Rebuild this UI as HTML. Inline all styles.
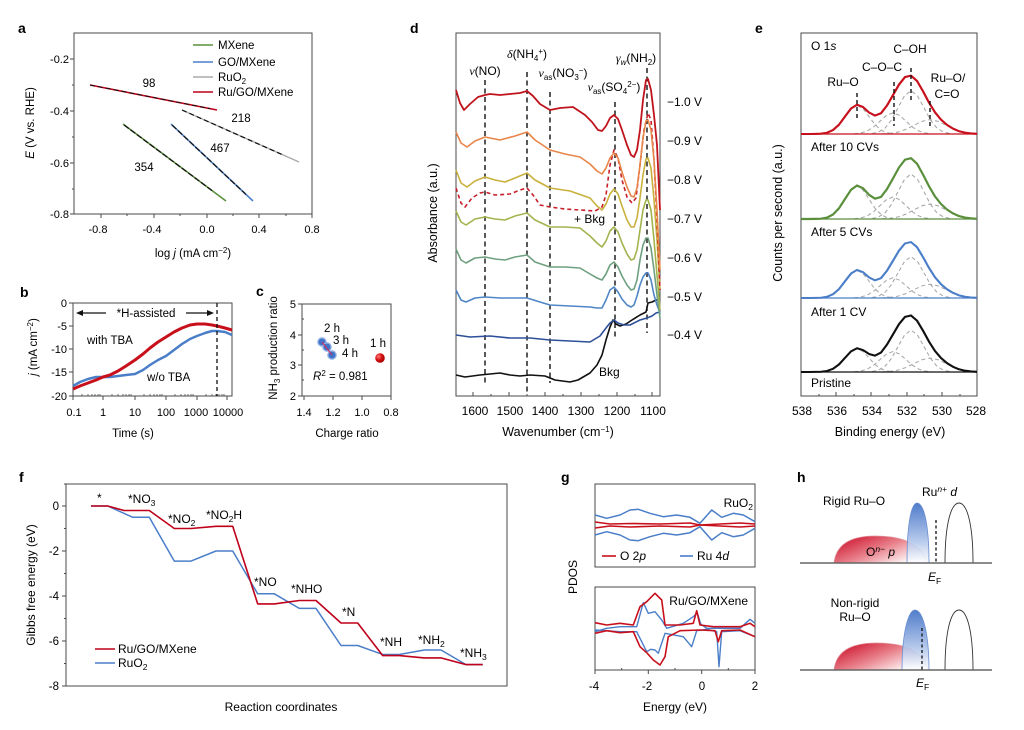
<!DOCTYPE html>
<html><head><meta charset="utf-8"><style>
html,body{margin:0;padding:0;background:#fff;}
svg{display:block;font-family:"Liberation Sans",Arial,sans-serif;}
</style></head><body>
<svg width="1024" height="730" viewBox="0 0 1024 730" xmlns="http://www.w3.org/2000/svg">
<defs>
<linearGradient id="rg" x1="0" y1="0" x2="1" y2="0.7"><stop offset="0" stop-color="#c8001e"/><stop offset="0.55" stop-color="#e8808a"/><stop offset="1" stop-color="#ffffff"/></linearGradient>
<linearGradient id="bg" x1="0" y1="0" x2="0" y2="1"><stop offset="0" stop-color="#3d6ec4"/><stop offset="0.6" stop-color="#a9c0e8"/><stop offset="1" stop-color="#ffffff"/></linearGradient>
<radialGradient id="redball" cx="0.35" cy="0.35" r="0.7"><stop offset="0" stop-color="#ff8080"/><stop offset="0.5" stop-color="#d81010"/><stop offset="1" stop-color="#a00000"/></radialGradient>
</defs>
<rect width="1024" height="730" fill="#fff"/>

<!-- ============ PANEL A ============ -->
<text x="18" y="33" font-size="14" font-weight="bold">a</text>
<rect x="74" y="33" width="238" height="181" fill="none" stroke="#4a4a4a" stroke-width="1"/>
<g stroke="#4a4a4a" stroke-width="1">
<line x1="70" y1="59" x2="74" y2="59"/><line x1="70" y1="111" x2="74" y2="111"/><line x1="70" y1="163" x2="74" y2="163"/><line x1="70" y1="214" x2="74" y2="214"/>
<line x1="72" y1="85" x2="74" y2="85"/><line x1="72" y1="137" x2="74" y2="137"/><line x1="72" y1="189" x2="74" y2="189"/>
<line x1="101" y1="214" x2="101" y2="218"/><line x1="154" y1="214" x2="154" y2="218"/><line x1="207" y1="214" x2="207" y2="218"/><line x1="259" y1="214" x2="259" y2="218"/><line x1="312" y1="214" x2="312" y2="218"/>
<line x1="127" y1="214" x2="127" y2="216"/><line x1="180" y1="214" x2="180" y2="216"/><line x1="233" y1="214" x2="233" y2="216"/><line x1="286" y1="214" x2="286" y2="216"/>
</g>
<g font-size="11" text-anchor="end">
<text x="69" y="63">-0.2</text><text x="69" y="115">-0.4</text><text x="69" y="167">-0.6</text><text x="69" y="218">-0.8</text>
</g>
<g font-size="11" text-anchor="middle">
<text x="98" y="233">-0.8</text><text x="152" y="233">-0.4</text><text x="207" y="233">0.0</text><text x="259" y="233">0.4</text><text x="312" y="233">0.8</text>
</g>
<text x="193" y="257" font-size="11.5" text-anchor="middle">log <tspan font-style="italic">j</tspan> (mA cm<tspan dy="-4" font-size="8">−2</tspan><tspan dy="4">)</tspan></text>
<text transform="translate(34,123) rotate(-90)" font-size="11.5" text-anchor="middle"><tspan font-style="italic">E</tspan> (V vs. RHE)</text>
<line x1="90" y1="85" x2="217" y2="110" stroke="#c0001a" stroke-width="1.6"/>
<line x1="90" y1="85" x2="210" y2="108.6" stroke="#111" stroke-width="1" stroke-dasharray="5,3"/>
<line x1="182" y1="110" x2="299" y2="162" stroke="#aaaaaa" stroke-width="1.4"/>
<line x1="182" y1="110" x2="282" y2="154.5" stroke="#111" stroke-width="1.2" stroke-dasharray="5,3"/>
<line x1="171" y1="124" x2="253" y2="201" stroke="#4a7ec8" stroke-width="1.6"/>
<line x1="172" y1="125" x2="246" y2="194.5" stroke="#111" stroke-width="1.2" stroke-dasharray="6,2"/>
<line x1="123" y1="124" x2="226" y2="201" stroke="#5a8f3c" stroke-width="1.6"/>
<line x1="124" y1="125" x2="212" y2="190.6" stroke="#111" stroke-width="1.2" stroke-dasharray="6,2"/>
<g font-size="11.5" text-anchor="middle">
<text x="149" y="87">98</text><text x="241" y="122">218</text><text x="220" y="152">467</text><text x="144" y="171">354</text>
</g>
<line x1="193" y1="45" x2="213" y2="45" stroke="#5a8f3c" stroke-width="1.5"/>
<line x1="193" y1="62" x2="213" y2="62" stroke="#4a7ec8" stroke-width="1.5"/>
<line x1="193" y1="77" x2="213" y2="77" stroke="#aaaaaa" stroke-width="1.5"/>
<line x1="193" y1="92" x2="213" y2="92" stroke="#c0001a" stroke-width="1.5"/>
<g font-size="11.5">
<text x="218" y="49">MXene</text><text x="218" y="66">GO/MXene</text><text x="218" y="81">RuO<tspan dy="3" font-size="8">2</tspan></text><text x="218" y="96">Ru/GO/MXene</text>
</g>

<!-- ============ PANEL B ============ -->
<text x="20" y="297" font-size="14" font-weight="bold">b</text>
<rect x="73" y="303" width="159" height="93" fill="none" stroke="#4a4a4a" stroke-width="1"/>
<g stroke="#4a4a4a" stroke-width="1">
<line x1="69" y1="303" x2="73" y2="303"/><line x1="69" y1="326" x2="73" y2="326"/><line x1="69" y1="349" x2="73" y2="349"/><line x1="69" y1="372" x2="73" y2="372"/><line x1="69" y1="396" x2="73" y2="396"/>
<line x1="73" y1="396" x2="73" y2="400"/><line x1="103" y1="396" x2="103" y2="400"/><line x1="135" y1="396" x2="135" y2="400"/><line x1="166" y1="396" x2="166" y2="400"/><line x1="197" y1="396" x2="197" y2="400"/><line x1="227" y1="396" x2="227" y2="400"/>
</g>
<g stroke="#4a4a4a" stroke-width="0.8">
<path d="M82,396v-2M88,396v-2M92,396v-2M95,396v-2M98,396v-2M100,396v-2M112,396v-2M118,396v-2M123,396v-2M126,396v-2M129,396v-2M131,396v-2M144,396v-2M150,396v-2M154,396v-2M157,396v-2M160,396v-2M162,396v-2M175,396v-2M181,396v-2M185,396v-2M188,396v-2M191,396v-2M193,396v-2M206,396v-2M212,396v-2M216,396v-2M219,396v-2M222,396v-2M224,396v-2"/>
</g>
<g font-size="11" text-anchor="end">
<text x="67" y="307">0</text><text x="67" y="330">-5</text><text x="67" y="353">-10</text><text x="67" y="376">-15</text><text x="67" y="400">-20</text>
</g>
<g font-size="11" text-anchor="middle">
<text x="74" y="416">0.1</text><text x="103" y="416">1</text><text x="135" y="416">10</text><text x="166" y="416">100</text><text x="196" y="416">1000</text><text x="228" y="416">10000</text>
</g>
<text x="133" y="437" font-size="11.5" text-anchor="middle">Time (s)</text>
<text transform="translate(37,347) rotate(-90)" font-size="11.5" text-anchor="middle"><tspan font-style="italic">j</tspan> (mA cm<tspan dy="-4" font-size="8">−2</tspan><tspan dy="4">)</tspan></text>
<polyline fill="none" stroke="#4a7ec8" stroke-width="2.5" stroke-linejoin="round" points="73,386 80,382 88,379 96,377 103,377 110,377 118,376 126,375 135,374 143,370 150,365 158,360 166,356 174,350 182,344 190,339 197,336 205,333 212,331 217,331 225,332 232,335"/>
<polyline fill="none" stroke="#c8101c" stroke-width="3" stroke-linejoin="round" points="73,389 80,386 88,383 96,380 103,377 110,375 118,371 126,366 135,360 143,354 150,348 158,342 166,337 174,332 182,328 190,325 197,324 205,324 212,325 217,326 225,328 232,330"/>
<line x1="217" y1="303" x2="217" y2="396" stroke="#111" stroke-width="1.3" stroke-dasharray="4,3"/>
<rect x="108" y="305" width="76" height="16" fill="#fff"/>
<line x1="79" y1="313" x2="106" y2="313" stroke="#111" stroke-width="1.2"/>
<line x1="186" y1="313" x2="211" y2="313" stroke="#111" stroke-width="1.2"/>
<path d="M76,313 l7,-3 v6 z" fill="#111"/><path d="M214,313 l-7,-3 v6 z" fill="#111"/>
<text x="146" y="317" font-size="11.5" text-anchor="middle">*H-assisted</text>
<text x="87" y="344" font-size="11.5">with TBA</text>
<text x="147" y="381" font-size="11.5">w/o TBA</text>

<!-- ============ PANEL C ============ -->
<text x="256" y="296" font-size="14" font-weight="bold">c</text>
<rect x="302" y="304" width="89" height="92" fill="none" stroke="#4a4a4a" stroke-width="1"/>
<g stroke="#4a4a4a" stroke-width="1">
<line x1="298" y1="304" x2="302" y2="304"/><line x1="298" y1="335" x2="302" y2="335"/><line x1="298" y1="365" x2="302" y2="365"/><line x1="298" y1="396" x2="302" y2="396"/>
<line x1="302" y1="319" x2="304" y2="319"/><line x1="302" y1="350" x2="304" y2="350"/><line x1="302" y1="380" x2="304" y2="380"/>
<line x1="304" y1="396" x2="304" y2="400"/><line x1="333" y1="396" x2="333" y2="400"/><line x1="362" y1="396" x2="362" y2="400"/><line x1="391" y1="396" x2="391" y2="400"/>
</g>
<g font-size="11" text-anchor="end">
<text x="296" y="308">5</text><text x="296" y="339">4</text><text x="296" y="369">3</text><text x="296" y="400">2</text>
</g>
<g font-size="11" text-anchor="middle">
<text x="304" y="416">1.4</text><text x="333" y="416">1.2</text><text x="362" y="416">1.0</text><text x="391" y="416">0.8</text>
</g>
<text x="347" y="437" font-size="11.5" text-anchor="middle">Charge ratio</text>
<text transform="translate(277,348) rotate(-90)" font-size="11.5" text-anchor="middle">NH<tspan dy="3" font-size="8">3</tspan><tspan dy="-3"> production ratio</tspan></text>
<line x1="322" y1="342" x2="332" y2="355" stroke="#c8306a" stroke-width="1.5"/>
<circle cx="322" cy="342" r="4.2" fill="#3f74c8" stroke="#9cb8e8" stroke-width="1.3"/>
<circle cx="327" cy="347" r="4.2" fill="#3f74c8" stroke="#9cb8e8" stroke-width="1.3"/>
<circle cx="332" cy="355" r="4.2" fill="#3f74c8" stroke="#9cb8e8" stroke-width="1.3"/>
<line x1="322" y1="342" x2="332" y2="355" stroke="#c8306a" stroke-width="1.2"/>
<circle cx="380" cy="358" r="4.8" fill="url(#redball)"/>
<g font-size="11.5">
<text x="324" y="332">2 h</text><text x="333" y="344">3 h</text><text x="342" y="357">4 h</text><text x="370" y="347">1 h</text>
<text x="313" y="380"><tspan font-style="italic">R</tspan><tspan dy="-4" font-size="8">2</tspan><tspan dy="4"> = 0.981</tspan></text>
</g>

<!-- ============ PANEL D ============ -->
<text x="410" y="33" font-size="14" font-weight="bold">d</text>
<rect x="456" y="33" width="204" height="363" fill="none" stroke="#4a4a4a" stroke-width="1"/>
<g stroke="#4a4a4a" stroke-width="1">
<path d="M473,396v-4M509,396v-4M545,396v-4M581,396v-4M617,396v-4M652,396v-4M491,396v-2M527,396v-2M563,396v-2M599,396v-2M635,396v-2"/>
</g>
<g font-size="12" text-anchor="middle">
<text x="475" y="415">1600</text><text x="510" y="415">1500</text><text x="545" y="415">1400</text><text x="581" y="415">1300</text><text x="617" y="415">1200</text><text x="653" y="415">1100</text>
</g>
<text x="558" y="436" font-size="12.5" text-anchor="middle">Wavenumber (cm<tspan dy="-4" font-size="8">−1</tspan><tspan dy="4">)</tspan></text>
<text transform="translate(437,213) rotate(-90)" font-size="12.5" text-anchor="middle">Absorbance (a.u.)</text>
<g stroke="#111" stroke-width="1.4" stroke-dasharray="5,3.5">
<line x1="485" y1="80" x2="485" y2="383"/>
<line x1="527" y1="72" x2="527" y2="393"/>
<line x1="550" y1="92" x2="550" y2="383"/>
<line x1="615" y1="102" x2="615" y2="339"/>
<line x1="647" y1="68" x2="647" y2="333"/>
</g>
<g fill="none" stroke-width="1.6" stroke-linejoin="round">
<polyline stroke="#111" points="456,375 465,377 480,375 490,374 500,373 510,375 520,376 530,375 545,376 555,380 570,382 578,380 590,373 597,365 602,355 606,340 610,327 613,320 616,324 620,326 626,324 632,320 640,315 646,312 648,303 652,302 656,300 660,299"/>
<polyline stroke="#2d4f9a" points="456,335 470,337 490,336 510,338 530,338 550,340 570,341 590,342 600,336 606,328 610,323 614,320 618,323 624,325 630,325 640,320 647,318 652,316 656,313 660,312"/>
<polyline stroke="#4f86c6" points="456,290 461,300 466,302 475,298 485,297 500,298 515,298 527,298 540,302 550,305 570,306 590,307 597,308 602,308 606,300 610,290 614,287 618,292 622,299 627,305 631,307 634,305 637,296 640,285 643,277 646,273 648,273 651,280 654,295 657,305 660,313"/>
<polyline stroke="#6fa080" points="456,249 461,260 466,263 475,258 485,257 495,259 505,260 515,257 527,255 535,262 550,267 565,267 580,268 590,274 597,278 602,280 606,274 610,265 614,262 618,267 622,276 627,285 631,290 634,289 637,280 640,260 643,245 646,238 648,238 651,248 654,270 657,295 660,318"/>
<polyline stroke="#a3b44e" points="456,211 461,222 466,225 475,219 485,217 495,219 505,220 515,216 527,213 535,220 550,227 565,227 580,228 590,236 597,243 602,247 606,241 610,231 614,227 618,232 622,243 627,254 631,260 634,259 637,250 640,230 643,210 646,200 648,200 651,210 654,240 657,275 660,310"/>
<polyline stroke="#c9b13c" points="456,170 461,183 467,187 475,181 485,177 495,180 505,182 515,178 527,173 535,180 550,188 570,191 590,198 597,206 602,210 606,204 610,194 614,189 618,194 622,206 627,220 631,227 634,227 637,218 640,198 643,175 646,159 648,158 651,168 654,200 657,240 660,290"/>
<polyline stroke="#c8202a" stroke-dasharray="4,3" points="456,188 461,203 465,207 472,198 480,193 485,192 495,195 510,194 520,190 527,188 533,195 540,205 550,207 565,209 580,210 595,211 602,207 606,195 610,165 614,150 618,158 622,180 627,197 632,203 636,198 640,165 644,130 648,113 651,120 654,160 657,220 660,290"/>
<polyline stroke="#e8864a" points="456,132 461,143 467,147 475,141 485,137 500,140 515,136 527,132 535,140 550,150 565,154 580,157 590,164 597,171 602,174 606,168 610,158 614,153 618,158 622,172 627,187 631,196 634,197 637,188 640,165 643,138 646,121 648,120 651,130 654,160 657,210 660,270"/>
<polyline stroke="#c0141c" stroke-width="1.8" points="456,90 460,103 464,110 470,104 478,97 485,95 490,94 500,95 510,94 520,93 527,91 533,96 540,104 550,110 560,108 573,107 585,115 592,122 598,130 602,131 606,126 610,118 614,115 618,119 622,130 627,145 631,155 634,157 637,150 640,130 643,100 646,80 648,79 651,90 654,115 657,145 660,210"/>
</g>
<g font-size="12">
<text x="667" y="106">−1.0 V</text><text x="667" y="145">−0.9 V</text><text x="667" y="184">−0.8 V</text><text x="667" y="223">−0.7 V</text><text x="667" y="262">−0.6 V</text><text x="667" y="301">−0.5 V</text><text x="667" y="339">−0.4 V</text>
<text x="574" y="223">+ Bkg</text><text x="599" y="376">Bkg</text>
</g>
<g font-size="12" text-anchor="middle">
<text x="485" y="75"><tspan font-family="Liberation Serif" font-style="italic">ν</tspan>(NO)</text>
<text x="527" y="58"><tspan font-family="Liberation Serif" font-style="italic">δ</tspan>(NH<tspan dy="3" font-size="8">4</tspan><tspan dy="-7" font-size="8">+</tspan><tspan dy="4">)</tspan></text>
<text x="563" y="77"><tspan font-family="Liberation Serif" font-style="italic">ν</tspan><tspan dy="3" font-size="8">as</tspan><tspan dy="-3">(NO</tspan><tspan dy="3" font-size="8">3</tspan><tspan dy="-7" font-size="8">−</tspan><tspan dy="4">)</tspan></text>
<text x="614" y="91"><tspan font-family="Liberation Serif" font-style="italic">ν</tspan><tspan dy="3" font-size="8">as</tspan><tspan dy="-3">(SO</tspan><tspan dy="3" font-size="8">4</tspan><tspan dy="-7" font-size="8">2−</tspan><tspan dy="4">)</tspan></text>
<text x="636" y="62"><tspan font-family="Liberation Serif" font-style="italic">γ</tspan><tspan dy="3" font-size="8" font-style="italic">w</tspan><tspan dy="-3">(NH</tspan><tspan dy="3" font-size="8">2</tspan><tspan dy="-3">)</tspan></text>
</g>

<!-- ============ PANEL E ============ -->
<text x="755" y="33" font-size="14" font-weight="bold">e</text>
<rect x="801" y="33" width="176" height="363" fill="none" stroke="#4a4a4a" stroke-width="1"/>
<g stroke="#4a4a4a" stroke-width="1">
<path d="M836,396v-4M871,396v-4M907,396v-4M942,396v-4M819,396v-2M854,396v-2M889,396v-2M924,396v-2M960,396v-2"/>
</g>
<g font-size="12" text-anchor="middle">
<text x="802" y="415">538</text><text x="837" y="415">536</text><text x="872" y="415">534</text><text x="907" y="415">532</text><text x="942" y="415">530</text><text x="976" y="415">528</text>
</g>
<text x="890" y="436" font-size="12.5" text-anchor="middle">Binding energy (eV)</text>
<text transform="translate(782,213) rotate(-90)" font-size="12.5" text-anchor="middle">Counts per second (a.u.)</text>
<g transform="translate(0,134) scale(1,0.96)">
<g fill="none" stroke="#a8a8a8" stroke-width="1.1" stroke-dasharray="4,3">
<polyline points="821,-0.3 827,-1.3 833,-4.1 839,-9.7 845,-18.2 851,-26.5 857,-30 863,-26.5 869,-18.2 875,-9.7 881,-4.1 887,-1.3 893,-0.3"/>
<polyline points="854,-0.24 860.5,-0.97 867,-2.97 873.5,-7.15 880,-13.35 886.5,-19.4 893,-22 899.5,-19.4 906,-13.35 912.5,-7.15 919,-2.97 925.5,-0.97 932,-0.24"/>
<polyline points="872,-0.5 878.5,-2 885,-6.1 891.5,-14.6 898,-27.3 904.5,-39.7 911,-45 917.5,-39.7 924,-27.3 930.5,-14.6 937,-6.1 943.5,-2 950,-0.5"/>
<polyline points="882,-0.17 890,-0.66 898,-2 906,-4.9 914,-9.1 922,-13.2 930,-15 938,-13.2 946,-9.1 954,-4.9 962,-2 970,-0.66 977,-0.2"/>
</g>
<line x1="801" y1="0" x2="977" y2="0" stroke="#c8101c" stroke-width="1.3"/>
<polyline fill="none" stroke="#c8101c" stroke-width="2.2" stroke-linejoin="round" points="801,0 809,0 815,-0.1 821,-0.3 827,-1.3 833,-4.1 839,-9.7 845,-18.2 851,-26.6 857,-30.5 863,-28.1 869,-22.4 875,-19.2 881,-21.6 887,-29.7 893,-40.5 899,-51.5 905,-59.3 911,-60.8 917,-55.3 923,-44.5 929,-32.7 935,-22.6 941,-15 947,-9.5 953,-5.6 959,-2.9 965,-1.4 971,-0.6 977,-0.2"/>
</g>
<g transform="translate(0,219) scale(1,1.0)">
<g fill="none" stroke="#a8a8a8" stroke-width="1.1" stroke-dasharray="4,3">
<polyline points="821,-0.3 827,-1.4 833,-4.5 839,-10.7 845,-20 851,-29 857,-33 863,-29 869,-20 875,-10.7 881,-4.5 887,-1.4 893,-0.3"/>
<polyline points="854,-0.24 860.5,-0.97 867,-2.97 873.5,-7.15 880,-13.35 886.5,-19.4 893,-22 899.5,-19.4 906,-13.35 912.5,-7.15 919,-2.97 925.5,-0.97 932,-0.24"/>
<polyline points="872,-0.5 878.5,-2 885,-6.1 891.5,-14.6 898,-27.3 904.5,-39.7 911,-45 917.5,-39.7 924,-27.3 930.5,-14.6 937,-6.1 943.5,-2 950,-0.5"/>
<polyline points="882,-0.17 890,-0.66 898,-2 906,-4.9 914,-9.1 922,-13.2 930,-15 938,-13.2 946,-9.1 954,-4.9 962,-2 970,-0.66 977,-0.2"/>
</g>
<line x1="801" y1="0" x2="977" y2="0" stroke="#5a8f3c" stroke-width="1.3"/>
<polyline fill="none" stroke="#5a8f3c" stroke-width="2.2" stroke-linejoin="round" points="801,0 809,0 815,-0.1 821,-0.3 827,-1.4 833,-4.5 839,-10.7 845,-20 851,-29.2 857,-33.5 863,-30.8 869,-24.2 875,-20.3 881,-22.1 887,-29.9 893,-40.6 899,-51.5 905,-59.3 911,-60.8 917,-55.3 923,-44.5 929,-32.7 935,-22.6 941,-15 947,-9.5 953,-5.6 959,-2.9 965,-1.4 971,-0.6 977,-0.2"/>
</g>
<g transform="translate(0,298) scale(1,0.92)">
<g fill="none" stroke="#a8a8a8" stroke-width="1.1" stroke-dasharray="4,3">
<polyline points="821,-0.3 827,-1.3 833,-4.1 839,-9.7 845,-18.2 851,-26.5 857,-30 863,-26.5 869,-18.2 875,-9.7 881,-4.1 887,-1.3 893,-0.3"/>
<polyline points="854,-0.24 860.5,-0.97 867,-2.97 873.5,-7.15 880,-13.35 886.5,-19.4 893,-22 899.5,-19.4 906,-13.35 912.5,-7.15 919,-2.97 925.5,-0.97 932,-0.24"/>
<polyline points="872,-0.5 878.5,-2 885,-6.1 891.5,-14.6 898,-27.3 904.5,-39.7 911,-45 917.5,-39.7 924,-27.3 930.5,-14.6 937,-6.1 943.5,-2 950,-0.5"/>
<polyline points="882,-0.17 890,-0.66 898,-2 906,-4.9 914,-9.1 922,-13.2 930,-15 938,-13.2 946,-9.1 954,-4.9 962,-2 970,-0.66 977,-0.2"/>
</g>
<line x1="801" y1="0" x2="977" y2="0" stroke="#4a7ec8" stroke-width="1.3"/>
<polyline fill="none" stroke="#4a7ec8" stroke-width="2.2" stroke-linejoin="round" points="801,0 809,0 815,-0.1 821,-0.3 827,-1.3 833,-4.1 839,-9.7 845,-18.2 851,-26.6 857,-30.5 863,-28.1 869,-22.4 875,-19.2 881,-21.6 887,-29.7 893,-40.5 899,-51.5 905,-59.3 911,-60.8 917,-55.3 923,-44.5 929,-32.7 935,-22.6 941,-15 947,-9.5 953,-5.6 959,-2.9 965,-1.4 971,-0.6 977,-0.2"/>
</g>
<g transform="translate(0,372) scale(1,0.93)">
<g fill="none" stroke="#a8a8a8" stroke-width="1.1" stroke-dasharray="4,3">
<polyline points="821,-0.2 827,-1.1 833,-3.4 839,-8.1 845,-15.2 851,-22 857,-25 863,-22 869,-15.2 875,-8.1 881,-3.4 887,-1.1 893,-0.2"/>
<polyline points="854,-0.24 860.5,-0.97 867,-2.97 873.5,-7.15 880,-13.35 886.5,-19.4 893,-22 899.5,-19.4 906,-13.35 912.5,-7.15 919,-2.97 925.5,-0.97 932,-0.24"/>
<polyline points="872,-0.5 878.5,-2 885,-6.1 891.5,-14.6 898,-27.3 904.5,-39.7 911,-45 917.5,-39.7 924,-27.3 930.5,-14.6 937,-6.1 943.5,-2 950,-0.5"/>
<polyline points="882,-0.17 890,-0.66 898,-2 906,-4.9 914,-9.1 922,-13.2 930,-15 938,-13.2 946,-9.1 954,-4.9 962,-2 970,-0.66 977,-0.2"/>
</g>
<line x1="801" y1="0" x2="977" y2="0" stroke="#111" stroke-width="1.3"/>
<polyline fill="none" stroke="#111" stroke-width="2.2" stroke-linejoin="round" points="801,0 809,0 815,-0.1 821,-0.3 827,-1.1 833,-3.4 839,-8.1 845,-15.2 851,-22.2 857,-25.5 863,-23.6 869,-19.4 875,-17.6 881,-20.9 887,-29.5 893,-40.5 899,-51.5 905,-59.3 911,-60.8 917,-55.3 923,-44.5 929,-32.7 935,-22.6 941,-15 947,-9.5 953,-5.6 959,-2.9 965,-1.4 971,-0.6 977,-0.2"/>
</g>
<g stroke="#111" stroke-width="1.4" stroke-dasharray="4,3">
<line x1="857" y1="93" x2="857" y2="118"/>
<line x1="894" y1="82" x2="894" y2="126"/>
<line x1="911" y1="68" x2="911" y2="102"/>
<line x1="930" y1="101" x2="930" y2="126"/>
</g>
<g font-size="12">
<text x="811" y="50">O 1<tspan font-style="italic">s</tspan></text>
<text x="910" y="53" text-anchor="middle">C–OH</text>
<text x="882" y="71" text-anchor="middle">C–O–C</text>
<text x="843" y="86" text-anchor="middle">Ru–O</text>
<text x="948" y="82" text-anchor="middle">Ru–O/</text>
<text x="947" y="98" text-anchor="middle">C=O</text>
<text x="811" y="151">After 10 CVs</text>
<text x="811" y="236">After 5 CVs</text>
<text x="811" y="316">After 1 CV</text>
<text x="811" y="387">Pristine</text>
</g>

<!-- ============ PANEL F ============ -->
<text x="19" y="482" font-size="14" font-weight="bold">f</text>
<rect x="66" y="484" width="441" height="202" fill="none" stroke="#4a4a4a" stroke-width="1"/>
<g stroke="#4a4a4a" stroke-width="1">
<path d="M62,506h4M62,551h4M62,596h4M62,641h4M62,686h4M64,528.5h2M64,573.5h2M64,618.5h2M64,663.5h2M64,484h2"/>
</g>
<g font-size="11.5" text-anchor="end">
<text x="59" y="510">0</text><text x="59" y="555">-2</text><text x="59" y="600">-4</text><text x="59" y="645">-6</text><text x="59" y="690">-8</text>
</g>
<text x="281" y="711" font-size="12" text-anchor="middle">Reaction coordinates</text>
<text transform="translate(35,585) rotate(-90)" font-size="12" text-anchor="middle">Gibbs free energy (eV)</text>
<polyline fill="none" stroke="#4a7ec8" stroke-width="1.5" stroke-linejoin="round" points="91,506 107.7,506 132.7,517.3 149.3,517.3 174.3,561.1 191,561.1 216,551 232.7,551 257.7,593.8 274.3,593.8 299.3,608.4 316,608.4 341,645.5 357.7,645.5 382.7,654.5 399.3,654.5 424.3,650 441,650 466,664.6 482.7,664.6"/>
<polyline fill="none" stroke="#c0001a" stroke-width="1.6" stroke-linejoin="round" points="91,506 107.7,506 124,510.5 149.3,510.5 174.3,528.5 191,528.5 216,526.3 232.7,526.3 257.7,603.9 274.3,603.9 299.3,600.5 316,600.5 341,623 357.7,623 382.7,655.6 399.3,655.6 424.3,657.9 441,657.9 466,664.6 482.7,664.6"/>
<g font-size="12">
<text x="97" y="502">*</text>
<text x="128" y="503">*NO<tspan dy="3" font-size="8.5">3</tspan></text>
<text x="168" y="523">*NO<tspan dy="3" font-size="8.5">2</tspan></text>
<text x="206" y="519">*NO<tspan dy="3" font-size="8.5">2</tspan><tspan dy="-3">H</tspan></text>
<text x="254" y="586">*NO</text>
<text x="291" y="593">*NHO</text>
<text x="342" y="616">*N</text>
<text x="380" y="646">*NH</text>
<text x="418" y="644">*NH<tspan dy="3" font-size="8.5">2</tspan></text>
<text x="460" y="657">*NH<tspan dy="3" font-size="8.5">3</tspan></text>
</g>
<line x1="95" y1="649" x2="115" y2="649" stroke="#c0001a" stroke-width="1.6"/>
<line x1="95" y1="663" x2="115" y2="663" stroke="#4a7ec8" stroke-width="1.6"/>
<g font-size="12">
<text x="118" y="653">Ru/GO/MXene</text>
<text x="118" y="667">RuO<tspan dy="3" font-size="8.5">2</tspan></text>
</g>

<!-- ============ PANEL G ============ -->
<text x="561" y="482" font-size="14" font-weight="bold">g</text>
<rect x="595" y="484" width="160" height="83" fill="none" stroke="#4a4a4a" stroke-width="1"/>
<rect x="595" y="587" width="160" height="83" fill="none" stroke="#4a4a4a" stroke-width="1"/>
<g stroke="#4a4a4a" stroke-width="1">
<path d="M595,670v4M648.3,670v4M701.7,670v4M755,670v4M621.7,670v-2M675,670v-2M728.3,670v-2"/>
</g>
<g font-size="11.5" text-anchor="middle">
<text x="594" y="690">-4</text><text x="647" y="690">-2</text><text x="702" y="690">0</text><text x="755" y="690">2</text>
</g>
<text x="675" y="711" font-size="12" text-anchor="middle">Energy (eV)</text>
<text transform="translate(577,577) rotate(-90)" font-size="12" text-anchor="middle">PDOS</text>
<g fill="none" stroke-linejoin="round">
<polyline stroke="#4a7ec8" stroke-width="1.5" points="595,515 606.7,518.3 620,515 630,510 638.3,509.3 650,513.3 663.3,516.7 676.7,515 690,517.3 700,523.3 711.7,510 721.7,517.3 733.3,513.3 743.3,515 755,521.7"/>
<polyline stroke="#4a7ec8" stroke-width="1.5" points="595,535 606.7,531.7 620,535 630,540 638.3,540.7 650,536.7 663.3,533.3 676.7,535 690,532.7 700,526.7 711.7,540 721.7,532.7 733.3,536.7 743.3,535 755,528.3"/>
<polyline stroke="#c8101c" stroke-width="1.6" points="595,522 610,524 630,523.5 660,524 690,523 700,525 720,524 740,523 755,524"/>
<polyline stroke="#c8101c" stroke-width="1.6" points="595,528 610,526 630,527 660,526 690,527 700,525 720,526 740,527 755,526"/>
<polyline stroke="#4a7ec8" stroke-width="1.4" points="595,631.7 606.7,628.3 620,626.7 636.7,626.7 643.3,602.7 648.3,613.3 655,611.7 661.7,620 666.7,628.3 683.3,623.3 693.3,616.7 697.3,612.7 700.7,624 706.7,628.3 740,628.3 750,619.3 755,623.3"/>
<polyline stroke="#4a7ec8" stroke-width="1.4" points="595,630 620,631.7 636.7,631.7 646.7,651.7 650.7,649.3 655,650 658.3,653.3 665,633.3 683.3,636.7 691.7,646.7 696.7,630.7 706.7,629.3 716.7,631.7 719,666.7 721.7,631.7 740,630.7 755,636.7"/>
<polyline stroke="#c8101c" stroke-width="1.6" points="595,622.7 606.7,625 620,623.3 633.3,625 640,606.7 646.7,601.7 655,593.3 661.7,600 665,625 680,625 693.3,623.3 696.7,610.7 700,625 713.3,626.7 740,626.7 750,623.3 755,626.7"/>
<polyline stroke="#c8101c" stroke-width="1.6" points="595,633.3 606.7,630.7 620,632.7 633.3,631.7 640,646.7 647.3,653.3 653.3,660 660,665 665,656.7 668.3,636.7 680,630.7 700,630 715,630.7 718.3,641.7 721.7,630.7 740,630 755,636.7"/>
</g>
<text x="753" y="507" font-size="12" text-anchor="end">RuO<tspan dy="3" font-size="8.5">2</tspan></text>
<text x="748" y="605" font-size="12" text-anchor="end">Ru/GO/MXene</text>
<line x1="602" y1="556" x2="616" y2="556" stroke="#c8101c" stroke-width="1.6"/>
<line x1="680" y1="556" x2="693" y2="556" stroke="#4a7ec8" stroke-width="1.6"/>
<text x="620" y="560" font-size="12">O 2<tspan font-style="italic">p</tspan></text>
<text x="697" y="560" font-size="12">Ru 4<tspan font-style="italic">d</tspan></text>

<!-- ============ PANEL H ============ -->
<text x="797" y="482" font-size="14" font-weight="bold">h</text>
<path d="M834,563 C836,545 850,536 875,536 C905,536 922,545 927,563 Z" fill="url(#rg)" stroke="#e09098" stroke-width="0.8"/>
<path d="M907,563 C907,520 912,503 917,503 C923,503 929,520 929,563 Z" fill="url(#bg)" fill-opacity="0.9" stroke="#6a8fd0" stroke-width="0.8"/>
<path d="M945,563 C945,520 952,503 959,503 C966,503 973,520 973,563" fill="none" stroke="#333" stroke-width="0.9"/>
<line x1="800" y1="563" x2="992" y2="563" stroke="#666" stroke-width="1.5"/>
<line x1="936" y1="520" x2="936" y2="563" stroke="#111" stroke-width="1.3" stroke-dasharray="3,2.5"/>
<path d="M834,670 C836,652 850,643 876,643 C906,643 924,652 928,670 Z" fill="url(#rg)" stroke="#e09098" stroke-width="0.8"/>
<path d="M902,670 C902,630 909,610 915,610 C922,610 929,630 929,670 Z" fill="url(#bg)" fill-opacity="0.9" stroke="#6a8fd0" stroke-width="0.8"/>
<path d="M945,670 C945,627 952,610 959,610 C966,610 973,627 973,670" fill="none" stroke="#333" stroke-width="0.9"/>
<line x1="800" y1="670" x2="992" y2="670" stroke="#666" stroke-width="1.5"/>
<line x1="922" y1="628" x2="922" y2="670" stroke="#111" stroke-width="1.3" stroke-dasharray="3,2.5"/>
<g font-size="12">
<text x="823" y="505">Rigid Ru–O</text>
<text x="922" y="496">Ru<tspan dy="-4" font-size="8.5" font-style="italic">n</tspan><tspan font-size="8.5">+</tspan><tspan dy="4"> </tspan><tspan font-style="italic">d</tspan></text>
<text x="866" y="556">O<tspan dy="-4" font-size="8.5" font-style="italic">n</tspan><tspan font-size="8.5">−</tspan><tspan dy="4"> </tspan><tspan font-style="italic">p</tspan></text>
<text x="928" y="581"><tspan font-style="italic">E</tspan><tspan dy="3" font-size="8.5">F</tspan></text>
<text x="855" y="607" text-anchor="middle">Non-rigid</text>
<text x="855" y="621" text-anchor="middle">Ru–O</text>
<text x="916" y="687"><tspan font-style="italic">E</tspan><tspan dy="3" font-size="8.5">F</tspan></text>
</g>
</svg>
</body></html>
